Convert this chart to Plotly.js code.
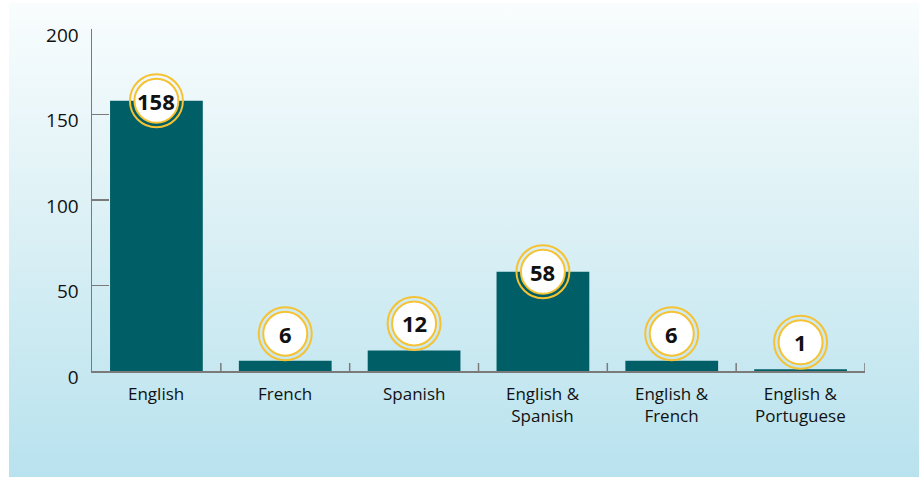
<!DOCTYPE html>
<html>
<head>
<meta charset="utf-8">
<script src="https://cdn.plot.ly/plotly-3.0.1.min.js"></script>
<style>
  html, body { margin: 0; padding: 0; width: 919px; height: 477px; overflow: hidden; background: #ffffff; }
  #bg { position: absolute; left: 9px; top: 3px; width: 910px; height: 474px;
        background: linear-gradient(to bottom, #f9fdfe 0%, #e0f2f6 40%, #b8e2ee 100%); }
  #chart { position: absolute; left: 0; top: 0; width: 919px; height: 477px; }
</style>
</head>
<body>
<div id="bg"></div>
<div id="chart"></div>
<script>
const categories = ["English", "French", "Spanish", "English &<br>Spanish", "English &<br>French", "English &<br>Portuguese"];
const counts = [158, 6, 12, 58, 6, 1];
const yTicks = [0, 50, 100, 150, 200];

const gold = "#f6c233";
const teal = "#005f66";
const axisGrey = "#7a7a7a";
const fontFam = "'Open Sans', 'Noto Sans', sans-serif";

const shapes = [];
const annotations = [];
counts.forEach((v, i) => {
  const lift = v < 30 ? 27 : 0;
  shapes.push({
    type: "circle", xref: "x", yref: "y", xsizemode: "pixel", ysizemode: "pixel",
    xanchor: i, yanchor: v, x0: -26.5, x1: 26.5, y0: lift - 26.5, y1: lift + 26.5,
    line: { color: gold, width: 2 }, fillcolor: "rgba(0,0,0,0)", layer: "above"
  });
  shapes.push({
    type: "circle", xref: "x", yref: "y", xsizemode: "pixel", ysizemode: "pixel",
    xanchor: i, yanchor: v, x0: -22, x1: 22, y0: lift - 22, y1: lift + 22,
    line: { color: gold, width: 2 }, fillcolor: "#ffffff", layer: "above"
  });
  annotations.push({
    x: i, y: v, xref: "x", yref: "y", text: "<b>" + v + "</b>", showarrow: false,
    yshift: lift, font: { family: fontFam, size: 22, color: "#111111" }
  });
});

// category labels below the axis
categories.forEach((c, i) => {
  annotations.push({
    x: i, y: 0, xref: "x", yref: "y", text: c, showarrow: false,
    yanchor: "top", yshift: -9, align: "center",
    font: { family: fontFam, size: 17, color: "#111111" }
  });
});

const trace = {
  type: "bar",
  x: categories.map((c, i) => i),
  y: counts,
  marker: { color: teal },
  hoverinfo: "skip"
};

const layout = {
  width: 919, height: 477,
  margin: { l: 92, r: 54, t: 29, b: 106 },
  paper_bgcolor: "rgba(0,0,0,0)",
  plot_bgcolor: "rgba(0,0,0,0)",
  bargap: 0.28,
  showlegend: false,
  font: { family: fontFam, size: 17, color: "#111111" },
  xaxis: {
    type: "linear", range: [-0.5, 5.5],
    showticklabels: false, ticks: "",
    showline: true, linecolor: axisGrey, linewidth: 1.5,
    showgrid: false, zeroline: false
  },
  yaxis: {
    range: [0, 200], tickvals: yTicks,
    ticks: "inside", ticklen: 17, tickcolor: axisGrey, tickwidth: 1.5,
    showline: true, linecolor: axisGrey, linewidth: 1.5,
    showgrid: false, zeroline: false,
    ticklabelstandoff: 8, ticklabelshift: 6,
    tickfont: { family: fontFam, size: 19, color: "#111111" }
  },
  shapes: shapes.concat(
    [0.5, 1.5, 2.5, 3.5, 4.5, 5.5].map(b => ({
      type: "line", xref: "x", yref: "y", ysizemode: "pixel", yanchor: 0,
      x0: b, x1: b, y0: 0, y1: 8, line: { color: axisGrey, width: 1.5 }, layer: "below"
    }))
  ),
  annotations: annotations
};

Plotly.newPlot("chart", [trace], layout, { displayModeBar: false, staticPlot: true });
</script>
</body>
</html>
